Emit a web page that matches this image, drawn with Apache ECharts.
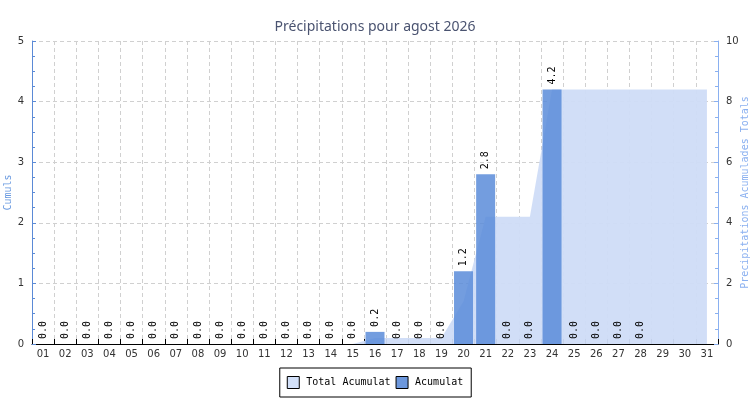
<!DOCTYPE html>
<html>
<head>
<meta charset="utf-8">
<script src="https://cdn.jsdelivr.net/npm/echarts@6/dist/echarts.min.js"></script>
<style>
  html, body { margin: 0; padding: 0; background: #fff; }
  #chart { width: 750px; height: 400px; }
</style>
</head>
<body>
<div id="chart"></div>
<script>
// jours du mois
var days = ['01','02','03','04','05','06','07','08','09','10','11','12','13','14','15','16',
            '17','18','19','20','21','22','23','24','25','26','27','28','29','30','31'];
// pluie journaliere (Acumulat)
var dailyRain = [0.0,0.0,0.0,0.0,0.0,0.0,0.0,0.0,0.0,0.0,0.0,0.0,0.0,0.0,0.0,0.2,
                 0.0,0.0,0.0,1.2,2.8,0.0,0.0,4.2,0.0,0.0,0.0,0.0,null,null,null];
// total cumule (axe de droite)
var totalRain = [0,0,0,0,0,0,0,0,0,0,0,0,0,0,0,0.2,
                 0.2,0.2,0.2,1.4,4.2,4.2,4.2,8.4,8.4,8.4,8.4,8.4,8.4,8.4,8.4];

var monoFont = 'DejaVu Sans Mono';

var myChart = echarts.init(document.getElementById('chart'));

var option = {
    animation: false,
    title: {
        text: 'Précipitations pour agost 2026',
        left: 'center',
        top: 15,
        textStyle: {
            color: '#4a5370',
            fontFamily: 'Noto Sans',
            fontWeight: 'normal',
            fontSize: 14
        }
    },
    legend: {
        data: [
            { name: 'Total Acumulat', icon: 'rect', itemStyle: { color: '#d2e0f9', borderColor: '#000', borderWidth: 1 } },
            { name: 'Acumulat', icon: 'rect', itemStyle: { color: '#6d98dd', borderColor: '#000', borderWidth: 1 } }
        ],
        bottom: 3,
        left: 'center',
        borderColor: '#000',
        borderWidth: 1,
        padding: [8, 8, 8, 7],
        itemGap: 5,
        itemWidth: 12,
        itemHeight: 12,
        textStyle: { fontFamily: monoFont, fontSize: 10, color: '#000', padding: [0, 0, 0, 2] }
    },
    grid: {
        left: 32,
        right: 32,
        top: 41,
        bottom: 56,
        outerBoundsMode: 'none',
        containLabel: false
    },
    xAxis: {
        type: 'category',
        data: days,
        boundaryGap: true,
        axisLine: { lineStyle: { color: '#000', width: 1 } },
        axisTick: { show: true, inside: true, length: 5, lineStyle: { color: '#000' } },
        axisLabel: { color: '#333', fontSize: 10, fontFamily: 'DejaVu Sans', margin: 5, interval: 0 },
        splitLine: { show: true, lineStyle: { color: '#d0d0d0', type: [4, 3] } }
    },
    yAxis: [
        {
            type: 'value',
            name: 'Cumuls',
            nameLocation: 'middle',
            nameGap: 19,
            nameMoveOverlap: false,
            nameTextStyle: { color: '#6a9ae0', fontFamily: monoFont, fontSize: 10 },
            min: 0,
            max: 5,
            interval: 1,
            axisLine: { show: true, lineStyle: { color: '#5b8ad6' } },
            axisTick: { show: true, inside: true, length: 4, lineStyle: { color: '#5b8ad6' } },
            minorTick: { show: true, splitNumber: 4, length: 3, lineStyle: { color: '#5b8ad6' } },
            axisLabel: { color: '#333', fontSize: 10, fontFamily: 'DejaVu Sans', margin: 8 },
            splitLine: { show: true, lineStyle: { color: '#d0d0d0', type: [4, 3] } }
        },
        {
            type: 'value',
            name: 'Precipitations Acumulades Totals',
            nameLocation: 'middle',
            nameGap: 22,
            nameMoveOverlap: false,
            nameTextStyle: { color: '#8ab0f0', fontFamily: monoFont, fontSize: 10 },
            min: 0,
            max: 10,
            interval: 2,
            position: 'right',
            axisLine: { show: true, lineStyle: { color: '#8ab0f0' } },
            axisTick: { show: true, inside: true, length: 4, lineStyle: { color: '#8ab0f0' } },
            minorTick: { show: true, splitNumber: 4, length: 3, lineStyle: { color: '#8ab0f0' } },
            axisLabel: { color: '#333', fontSize: 10, fontFamily: 'DejaVu Sans', margin: 8 },
            splitLine: { show: false }
        }
    ],
    series: [
        {
            name: 'Total Acumulat',
            type: 'line',
            yAxisIndex: 1,
            data: totalRain,
            showSymbol: false,
            symbol: 'none',
            lineStyle: { width: 0, color: '#cfdcf7' },
            itemStyle: { color: '#d2e0f9' },
            areaStyle: { color: '#cfdcf7', opacity: 0.95 },
            z: 1
        },
        {
            name: 'Acumulat',
            type: 'bar',
            yAxisIndex: 0,
            data: dailyRain,
            barWidth: 19,
            itemStyle: { color: 'rgba(91,140,217,0.85)' },
            label: {
                show: true,
                position: 'top',
                rotate: 90,
                align: 'left',
                verticalAlign: 'middle',
                distance: 5,
                color: '#000',
                fontFamily: monoFont,
                fontSize: 10,
                formatter: function (p) { return p.value.toFixed(1); }
            },
            z: 2
        }
    ]
};

myChart.setOption(option, true);
</script>
</body>
</html>
